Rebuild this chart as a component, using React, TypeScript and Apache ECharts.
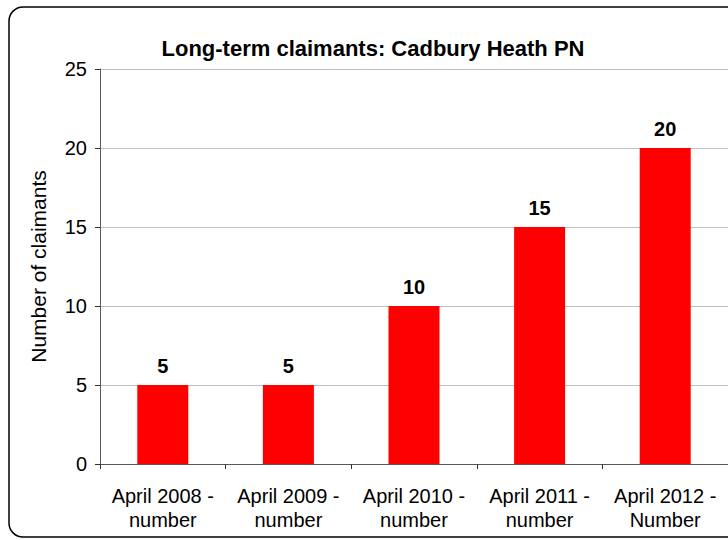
import React, { useEffect, useRef } from "react";
import * as echarts from "echarts";

const categories = [
  "April 2008 -\nnumber",
  "April 2009 -\nnumber",
  "April 2010 -\nnumber",
  "April 2011 -\nnumber",
  "April 2012 -\nNumber",
];
const claimants = [5, 5, 10, 15, 20];
const yTicks = { min: 0, max: 25, interval: 5 };
const titleText = "Long-term claimants: Cadbury Heath PN";
const yAxisName = "Number of claimants";

const FONT = "Arial, 'Liberation Sans', Helvetica, sans-serif";

export default function App() {
  const ref = useRef<HTMLDivElement>(null);
  useEffect(() => {
    if (!ref.current) return;
    const chart = echarts.init(ref.current, undefined, { renderer: "svg" });
    chart.setOption({
      animation: false,
      backgroundColor: "#ffffff",
      title: {
        text: titleText,
        left: 368,
        top: 32,
        textAlign: "center",
        textStyle: { fontFamily: FONT, fontSize: 22, fontWeight: "bold", color: "#000" },
      },
      graphic: [
        {
          type: "rect",
          shape: { x: 9, y: 7, width: 760, height: 530, r: 14 },
          style: { fill: "none", stroke: "#000", lineWidth: 1.5 },
          silent: true,
          z: 100,
        },
      ],
      grid: { left: 100, top: 69, width: 630, height: 395, containLabel: false },
      xAxis: {
        type: "category",
        data: categories,
        axisLine: { lineStyle: { color: "#595959", width: 1 } },
        axisTick: { show: true, length: 5, alignWithLabel: false, lineStyle: { color: "#333" } },
        axisLabel: {
          fontFamily: FONT,
          fontSize: 20,
          color: "#000",
          margin: 20,
          lineHeight: 24,
          interval: 0,
        },
      },
      yAxis: {
        type: "value",
        min: yTicks.min,
        max: yTicks.max,
        interval: yTicks.interval,
        name: yAxisName,
        nameLocation: "middle",
        nameGap: 51,
        nameTextStyle: { fontFamily: FONT, fontSize: 21, color: "#000" },
        axisLine: { show: true, lineStyle: { color: "#595959", width: 1 } },
        axisTick: { show: true, length: 5, lineStyle: { color: "#333" } },
        axisLabel: { fontFamily: FONT, fontSize: 20, color: "#000", margin: 13 },
        splitLine: { show: true, lineStyle: { color: "#c0c0c0", width: 1 } },
      },
      series: [
        {
          type: "bar",
          data: claimants,
          barWidth: 51,
          itemStyle: { color: "#ff0000" },
          label: {
            show: true,
            position: "top",
            distance: 9,
            fontFamily: FONT,
            fontSize: 20,
            fontWeight: "bold",
            color: "#000",
          },
        },
      ],
    });
    return () => chart.dispose();
  }, []);
  return (
    <div
      ref={ref}
      style={{ position: "fixed", left: 0, top: 0, width: 728, height: 540 }}
    />
  );
}
